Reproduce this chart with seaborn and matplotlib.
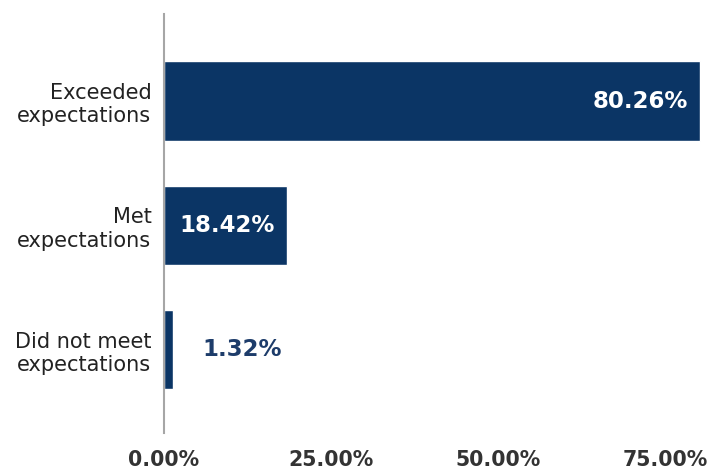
import matplotlib
matplotlib.use("Agg")
import matplotlib.pyplot as plt
import seaborn as sns
import pandas as pd

categories = ["Exceeded\nexpectations", "Met\nexpectations", "Did not meet\nexpectations"]
values = [80.26, 18.42, 1.32]
value_labels = ["80.26%", "18.42%", "1.32%"]
xticks = [0, 25, 50, 75]
xtick_labels = ["0.00%", "25.00%", "50.00%", "75.00%"]

bar_color = "#0B3565"

sns.set_theme(style="white")
plt.rcParams['font.family'] = ['DejaVu Sans']

df = pd.DataFrame({"category": categories, "value": values})

fig = plt.figure(figsize=(7.12, 4.72), dpi=100)
ax = fig.add_axes([164/712, 1 - 433/472, (710-164)/712, (433-14)/472])

sns.barplot(data=df, x="value", y="category", orient="h", color=bar_color,
            saturation=1, width=0.64, ax=ax)

ax.set_xlim(0, 81.7)
ax.set_ylim(2.67, -0.70)
ax.set_xticks(xticks)
ax.set_xticklabels(xtick_labels, fontsize=14.8, fontweight="bold", color="#333333")
ax.set_xlabel("")
ax.set_ylabel("")
ax.tick_params(axis="x", length=0, pad=12)
ax.tick_params(axis="y", length=0, pad=9, labelsize=15, labelcolor="#222222")

for s in ["top", "right", "bottom"]:
    ax.spines[s].set_visible(False)
ax.spines["left"].set_color("#A6A6A6")
ax.spines["left"].set_linewidth(1.5)

for i, (v, t) in enumerate(zip(values, value_labels)):
    if v > 10:
        ax.annotate(t, xy=(v, i), xytext=(-9, 0), textcoords="offset points",
                    ha="right", va="center", color="white", fontsize=16.5,
                    fontweight="bold")
    else:
        ax.annotate(t, xy=(v, i), xytext=(21, 0), textcoords="offset points",
                    ha="left", va="center", color="#1D3C6A", fontsize=16.5,
                    fontweight="bold")

fig.canvas.draw()
ax.set_yticks(range(len(categories)))
ax.set_yticklabels(categories, ha="right", multialignment="right")
fig.canvas.draw()
for lab in ax.get_yticklabels():
    lab.set_multialignment("right")

fig.savefig("out.png", dpi=100)
